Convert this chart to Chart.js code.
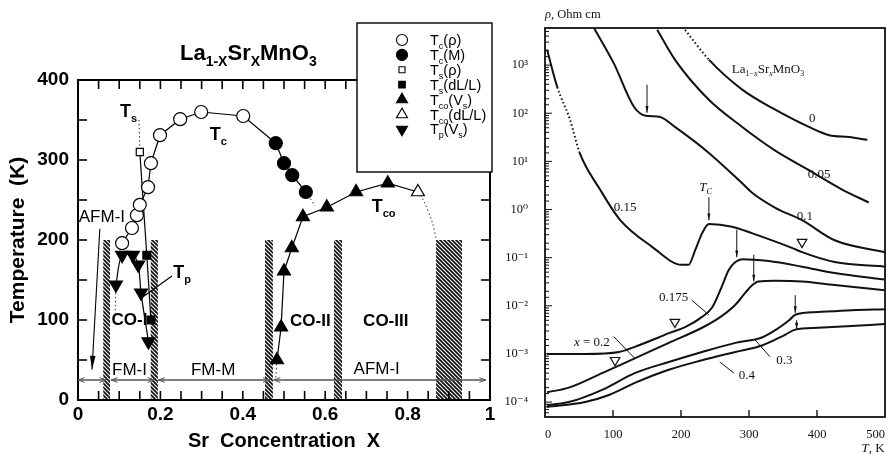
<!DOCTYPE html>
<html>
<head>
<meta charset="utf-8">
<script src="https://cdn.jsdelivr.net/npm/chart.js@4.4.0/dist/chart.umd.min.js"></script>
<style>
html, body { margin: 0; padding: 0; background: #fff; }
#wrap { position: relative; width: 893px; height: 459px; overflow: hidden; }
#left { position: absolute; left: 0; top: 0; }
#right { position: absolute; left: 505px; top: 0; }
</style>
</head>
<body>
<div id="wrap">
  <canvas id="left" width="505" height="459"></canvas>
  <canvas id="right" width="388" height="459"></canvas>
</div>
<script>
// ---------- left panel data: La(1-x)Sr(x)MnO3 phase diagram ----------
const tcRhoX = [0.107, 0.131, 0.143, 0.150, 0.170, 0.177, 0.199, 0.248, 0.299, 0.401];
const tcRhoT = [196, 215, 231, 244, 266, 296, 331, 351, 360, 355];
const tcMX = [0.480, 0.500, 0.520, 0.553];
const tcMT = [321, 296, 281, 260];
const tsRhoX = [0.150];
const tsRhoT = [310];
const tsDLX = [0.167, 0.177];
const tsDLT = [181, 100];
const tcoVsX = [0.483, 0.493, 0.500, 0.519, 0.546, 0.604, 0.675, 0.752];
const tcoVsT = [50, 91, 161, 190, 229, 241, 260, 271];
const tcoDLX = [0.825];
const tcoDLT = [260];
const tpX = [0.092, 0.107, 0.133, 0.146, 0.153, 0.171];
const tpT = [144, 181, 181, 169, 134, 73];

// dotted continuations
const tsGuideX = [0.148, 0.150], tsGuideT = [350, 316];
const tcTailX = [0.553, 0.575], tcTailT = [260, 243];
const tcoTailX = [0.825, 0.840, 0.860, 0.870], tcoTailT = [260, 248, 222, 200];
const tpTailX = [0.092, 0.090], tpTailT = [144, 106];
const tcoHeadX = [0.483, 0.480], tcoHeadT = [50, 28];

// hatched phase boundaries
const bandStart = [0.061, 0.176, 0.454, 0.621, 0.869];
const bandEnd = [0.078, 0.194, 0.473, 0.641, 0.932];
const bandTop = 200;

// ground-state ranges (double arrows near the bottom)
const phaseFrom = [0.000, 0.080, 0.195, 0.475];
const phaseTo = [0.068, 0.185, 0.465, 0.990];
const phaseArrowT = 25;

// ---------- right panel data: resistivity vs T ----------
const rhoT_0 = [206, 241, 290, 338, 388, 418, 447, 474];
const rho_0 = [5.4e3, 1.3e3, 3.1e2, 1.2e2, 5.2e1, 3.5e1, 3.2e1, 2.8e1];
const rhoT_005 = [165, 191, 241, 290, 338, 388, 437, 476];
const rho_005 = [5.4e3, 1.3e3, 1.9e2, 5.2e1, 1.7e1, 6.6, 2.6, 1.4];
const rhoT_01 = [72, 101, 131, 148, 168, 191, 241, 290, 305, 338, 378, 426, 500];
const rho_01 = [5.9e3, 1.1e3, 1.35e2, 8.9e1, 8.5e1, 5.2e1, 1.5e1, 3.5, 2.2, 1.1, 6.0e-1, 2.3e-1, 1.3e-1];
const rhoT_015 = [3, 18, 37, 51, 81, 110, 157, 201, 211, 221, 231, 241, 275, 305, 363, 378, 426, 500];
const rho_015 = [2.1e3, 3.5e2, 7.2e1, 1.5e1, 2.6, 6.2e-1, 1.7e-1, 7.1e-2, 7.1e-2, 1.45e-1, 3.2e-1, 5.0e-1, 4.4e-1, 3.2e-1, 1.6e-1, 1.3e-1, 8.1e-2, 6.5e-2];
const rhoT_0175 = [3, 59, 109, 132, 167, 182, 206, 231, 246, 260, 270, 280, 290, 329, 378, 426, 500];
const rho_0175 = [1.0e-3, 1.0e-3, 1.1e-3, 1.4e-3, 2.2e-3, 2.7e-3, 3.6e-3, 5.9e-3, 9.3e-3, 2.5e-2, 5.5e-2, 8.1e-2, 9.3e-2, 8.5e-2, 6.5e-2, 4.8e-2, 3.5e-2];
const rhoT_02 = [3, 35, 84, 132, 182, 231, 256, 280, 295, 305, 314, 338, 378, 426, 500];
const rho_02 = [1.6e-4, 2.0e-4, 4.0e-4, 8.1e-4, 1.7e-3, 3.5e-3, 5.6e-3, 1.05e-2, 1.9e-2, 2.7e-2, 3.2e-2, 3.3e-2, 3.2e-2, 2.7e-2, 2.1e-2];
const rhoT_03 = [3, 35, 84, 132, 182, 231, 280, 319, 344, 359, 368, 402, 451, 500];
const rho_03 = [8.7e-5, 1.0e-4, 1.8e-4, 4.0e-4, 6.8e-4, 1.1e-3, 1.7e-3, 2.2e-3, 3.5e-3, 5.0e-3, 6.5e-3, 7.4e-3, 8.1e-3, 8.5e-3];
const rhoT_04 = [3, 59, 94, 132, 182, 231, 280, 319, 353, 368, 402, 451, 500];
const rho_04 = [7.9e-5, 1.0e-4, 1.4e-4, 2.5e-4, 4.7e-4, 7.4e-4, 1.1e-3, 1.5e-3, 2.5e-3, 3.2e-3, 3.5e-3, 3.8e-3, 4.2e-3];
const openMarkT = [103, 191, 378];
const openMarkRho = [7.4e-4, 4.6e-3, 2.1e-1];

const SANS = '"Liberation Sans", Arial, Helvetica, sans-serif';
const SERIF = '"Liberation Serif", "Times New Roman", "DejaVu Serif", serif';

function pts(xs, ys) {
    return xs.map((x, i) => ({ x: x, y: ys[i] }));
}

function hatchPattern() {
    const c = document.createElement('canvas');
    c.width = 4; c.height = 4;
    const g = c.getContext('2d');
    g.strokeStyle = '#111';
    g.lineWidth = 1.8;
    g.beginPath();
    g.moveTo(-1, -1); g.lineTo(5, 5);
    g.moveTo(-1, 3); g.lineTo(1, 5);
    g.moveTo(3, -1); g.lineTo(5, 1);
    g.stroke();
    return g.createPattern(c, 'repeat');
}

function seg(ctx, x1, y1, x2, y2) {
    ctx.beginPath();
    ctx.moveTo(x1, y1);
    ctx.lineTo(x2, y2);
    ctx.stroke();
}

// arrow head at (x2,y2); filled = solid narrow head, else open "V"
function arrow(ctx, x1, y1, x2, y2, head, spread, filled) {
    seg(ctx, x1, y1, x2, y2);
    const ang = Math.atan2(y2 - y1, x2 - x1);
    const ax = x2 - head * Math.cos(ang - spread), ay = y2 - head * Math.sin(ang - spread);
    const bx = x2 - head * Math.cos(ang + spread), by = y2 - head * Math.sin(ang + spread);
    ctx.beginPath();
    if (filled) {
        ctx.moveTo(x2, y2); ctx.lineTo(ax, ay); ctx.lineTo(bx, by); ctx.closePath(); ctx.fill();
    } else {
        ctx.moveTo(ax, ay); ctx.lineTo(x2, y2); ctx.lineTo(bx, by); ctx.stroke();
    }
}

// rich text: parts are [text, kind]; kind may contain 's' (subscript), 'u' (superscript), 'i' (italic)
function drawRich(ctx, parts, x, y, size, family, weight, align) {
    const pieces = parts.map(p => {
        const k = p[1] || '';
        const small = k.includes('s') || k.includes('u');
        const s = small ? Math.round(size * 0.62) : size;
        const font = (k.includes('i') ? 'italic ' : '') + weight + ' ' + s + 'px ' + family;
        ctx.font = font;
        const dy = k.includes('s') ? size * 0.28 : (k.includes('u') ? -size * 0.42 : 0);
        return { t: p[0], font: font, w: ctx.measureText(p[0]).width, dy: dy };
    });
    const total = pieces.reduce((s, p) => s + p.w, 0);
    let cx = align === 'center' ? x - total / 2 : (align === 'right' ? x - total : x);
    ctx.textAlign = 'left';
    pieces.forEach(p => {
        ctx.font = p.font;
        ctx.fillText(p.t, cx, y + p.dy);
        cx += p.w;
    });
}

function drawMarker(ctx, style, x, y, r, filled, rot) {
    ctx.beginPath();
    if (style === 'circle') {
        ctx.arc(x, y, r, 0, Math.PI * 2);
    } else if (style === 'rect') {
        const h = r / Math.SQRT2;
        ctx.rect(x - h, y - h, 2 * h, 2 * h);
    } else {
        const dir = rot ? -1 : 1;
        ctx.moveTo(x, y - dir * r);
        ctx.lineTo(x + r * 0.866, y + dir * r * 0.5);
        ctx.lineTo(x - r * 0.866, y + dir * r * 0.5);
        ctx.closePath();
    }
    ctx.fillStyle = filled ? '#000' : '#fff';
    ctx.fill();
    ctx.stroke();
}

// ---------- left chart ----------
const hatch = hatchPattern();

const markerSets = [
    { label: [['T'], ['c', 's'], ['(ρ)']], x: tcRhoX, y: tcRhoT, style: 'circle', r: 6.5, filled: false, rot: 0 },
    { label: [['T'], ['c', 's'], ['(M)']], x: tcMX, y: tcMT, style: 'circle', r: 6.5, filled: true, rot: 0 },
    { label: [['T'], ['s', 's'], ['(ρ)']], x: tsRhoX, y: tsRhoT, style: 'rect', r: 5, filled: false, rot: 0 },
    { label: [['T'], ['s', 's'], ['(dL/L)']], x: tsDLX, y: tsDLT, style: 'rect', r: 5.5, filled: true, rot: 0 },
    { label: [['T'], ['co', 's'], ['(V'], ['s', 's'], [')']], x: tcoVsX, y: tcoVsT, style: 'triangle', r: 7.5, filled: true, rot: 0 },
    { label: [['T'], ['co', 's'], ['(dL/L)']], x: tcoDLX, y: tcoDLT, style: 'triangle', r: 7.5, filled: false, rot: 0 },
    { label: [['T'], ['p', 's'], ['(V'], ['s', 's'], [')']], x: tpX, y: tpT, style: 'triangle', r: 7.5, filled: true, rot: 180 }
];

const leftDatasets = [];
markerSets.forEach(m => {
    leftDatasets.push({
        data: pts(m.x, m.y), showLine: false, order: 0,
        pointStyle: m.style, pointRadius: m.r, pointRotation: m.rot,
        pointBorderColor: '#000', pointBorderWidth: 1.2,
        pointBackgroundColor: m.filled ? '#000' : '#fff'
    });
});
[[tcRhoX.concat(tcMX), tcRhoT.concat(tcMT), 0],
 [tsRhoX.concat(tsDLX), tsRhoT.concat(tsDLT), 0],
 [tcoVsX.concat(tcoDLX), tcoVsT.concat(tcoDLT), 0],
 [tpX, tpT, 0.35]].forEach(l => {
    leftDatasets.push({ data: pts(l[0], l[1]), borderColor: '#000', borderWidth: 1.2, pointRadius: 0, tension: l[2], order: 5 });
});
[[tsGuideX, tsGuideT], [tcTailX, tcTailT], [tcoTailX, tcoTailT], [tpTailX, tpTailT], [tcoHeadX, tcoHeadT]].forEach(l => {
    leftDatasets.push({ data: pts(l[0], l[1]), borderColor: '#333', borderWidth: 1, borderDash: [1.5, 2.5], pointRadius: 0, tension: 0.3, order: 5 });
});
bandStart.forEach((b, i) => {
    leftDatasets.push({
        data: [{ x: b, y: bandTop }, { x: bandEnd[i], y: bandTop }],
        borderWidth: 0, pointRadius: 0, fill: 'origin', backgroundColor: hatch, order: 10
    });
});

const leftTexts = [
    { parts: [['T'], ['s', 's']], x: 0.102, y: 354, size: 18, weight: 'bold', align: 'left' },
    { parts: [['T'], ['c', 's']], x: 0.320, y: 325, size: 18, weight: 'bold', align: 'left' },
    { parts: [['T'], ['p', 's']], x: 0.231, y: 152, size: 18, weight: 'bold', align: 'left' },
    { parts: [['T'], ['co', 's']], x: 0.713, y: 235, size: 18, weight: 'bold', align: 'left' },
    { parts: [['AFM-I']], x: 0.058, y: 223, size: 17, weight: 'normal', align: 'center' },
    { parts: [['CO-I']], x: 0.125, y: 94, size: 17, weight: 'bold', align: 'center' },
    { parts: [['CO-II']], x: 0.564, y: 92, size: 17, weight: 'bold', align: 'center' },
    { parts: [['CO-III']], x: 0.747, y: 92, size: 17, weight: 'bold', align: 'center' },
    { parts: [['FM-I']], x: 0.125, y: 31, size: 17, weight: 'normal', align: 'center' },
    { parts: [['FM-M']], x: 0.328, y: 31, size: 17, weight: 'normal', align: 'center' },
    { parts: [['AFM-I']], x: 0.725, y: 33, size: 17, weight: 'normal', align: 'center' }
];

const leftDecor = {
    id: 'leftDecor',
    afterDraw(chart) {
        const { ctx, chartArea: a, scales: { x, y } } = chart;
        ctx.save();
        ctx.strokeStyle = '#000';
        ctx.fillStyle = '#000';
        ctx.lineWidth = 2;
        ctx.strokeRect(a.left, a.top, a.right - a.left, a.bottom - a.top);

        // inward ticks
        ctx.lineWidth = 1.6;
        x.ticks.forEach(t => {
            const px = x.getPixelForValue(t.value);
            seg(ctx, px, a.bottom, px, a.bottom - 9);
            seg(ctx, px, a.top, px, a.top + 9);
        });
        y.ticks.forEach(t => {
            const py = y.getPixelForValue(t.value);
            seg(ctx, a.left, py, a.left + 9, py);
            seg(ctx, a.right, py, a.right - 9, py);
        });

        // ground-state double arrows
        ctx.strokeStyle = '#555';
        ctx.lineWidth = 1;
        const py = y.getPixelForValue(phaseArrowT);
        phaseFrom.forEach((f, i) => {
            const x1 = x.getPixelForValue(f), x2 = x.getPixelForValue(phaseTo[i]);
            arrow(ctx, x1, py, x2, py, 7, 0.35, false);
            arrow(ctx, x2, py, x1, py, 7, 0.35, false);
        });

        // AFM-I pointer and Tp leader
        ctx.strokeStyle = '#000';
        ctx.lineWidth = 1.1;
        arrow(ctx, x.getPixelForValue(0.053), y.getPixelForValue(214), x.getPixelForValue(0.034), y.getPixelForValue(38), 14, 0.2, true);
        seg(ctx, x.getPixelForValue(0.228), y.getPixelForValue(155), x.getPixelForValue(0.158), y.getPixelForValue(129));

        // labels
        ctx.textBaseline = 'alphabetic';
        leftTexts.forEach(t => {
            drawRich(ctx, t.parts, x.getPixelForValue(t.x), y.getPixelForValue(t.y), t.size, SANS, t.weight, t.align);
        });

        // title
        drawRich(ctx, [['La'], ['1-X', 's'], ['Sr'], ['X', 's'], ['MnO'], ['3', 's']],
            a.left + 102, a.top - 20, 22, SANS, 'bold', 'left');

        // legend box
        const lx = a.right - 133, ly = 23, lw = 135, lh = 149;
        ctx.fillStyle = '#fff';
        ctx.fillRect(lx, ly, lw, lh);
        ctx.lineWidth = 1.4;
        ctx.strokeRect(lx, ly, lw, lh);
        markerSets.forEach((m, i) => {
            const ry = ly + 17 + i * 14.9;
            ctx.lineWidth = 1.1;
            ctx.strokeStyle = '#000';
            drawMarker(ctx, m.style, lx + 45, ry, m.r * 0.85, m.filled, m.rot);
            ctx.fillStyle = '#000';
            drawRich(ctx, m.label, lx + 73, ry + 5, 14.5, SANS, 'normal', 'left');
        });
        ctx.restore();
    }
};

new Chart(document.getElementById('left'), {
    type: 'line',
    data: { datasets: leftDatasets },
    options: {
        responsive: false,
        animation: false,
        events: [],
        layout: { padding: { top: 80, right: 15, left: 0, bottom: 0 } },
        plugins: { legend: { display: false }, tooltip: { enabled: false } },
        scales: {
            x: {
                type: 'linear', min: 0, max: 1,
                afterFit: s => { s.height = 59; s.paddingLeft = 0; s.paddingRight = 0; },
                grid: { display: false, drawTicks: false },
                border: { display: false },
                ticks: {
                    stepSize: 0.05, autoSkip: false, maxRotation: 0, padding: 3,
                    color: '#000', font: { family: SANS, size: 19, weight: 'bold' },
                    callback: v => {
                        if (Math.abs(v * 5 - Math.round(v * 5)) > 1e-6) return '';
                        const r = Math.round(v * 5) / 5;
                        return r === 0 ? '0' : (r === 1 ? '1' : r.toFixed(1));
                    }
                },
                title: {
                    display: true, text: 'Sr  Concentration  X', color: '#000',
                    font: { family: SANS, size: 20, weight: 'bold' }, padding: { top: 0, bottom: 6 }
                }
            },
            y: {
                type: 'linear', min: 0, max: 400,
                afterFit: s => { s.width = 78; },
                grid: { display: false, drawTicks: false },
                border: { display: false },
                ticks: {
                    stepSize: 50, autoSkip: false, padding: 9,
                    color: '#000', font: { family: SANS, size: 19, weight: 'bold' },
                    callback: v => (v % 100 === 0 ? String(v) : '')
                },
                title: {
                    display: true, text: 'Temperature  (K)', color: '#000',
                    font: { family: SANS, size: 21, weight: 'bold' }, padding: { top: 6, bottom: 0 }
                }
            }
        }
    },
    plugins: [leftDecor]
});

// ---------- right chart ----------
const SUP = { '0': '⁰', '1': '¹', '2': '²', '3': '³', '4': '⁴', '5': '⁵', '6': '⁶', '7': '⁷', '8': '⁸', '9': '⁹', '-': '⁻' };
function powLabel(v) {
    const e = Math.log10(v);
    if (Math.abs(e - Math.round(e)) > 1e-6) return '';
    return '10' + String(Math.round(e)).split('').map(c => SUP[c]).join('');
}

const curveSets = [
    { t: rhoT_0, r: rho_0, dotted: [0] },
    { t: rhoT_005, r: rho_005, dotted: [] },
    { t: rhoT_01, r: rho_01, dotted: [] },
    { t: rhoT_015, r: rho_015, dotted: [1, 2] },
    { t: rhoT_0175, r: rho_0175, dotted: [] },
    { t: rhoT_02, r: rho_02, dotted: [] },
    { t: rhoT_03, r: rho_03, dotted: [] },
    { t: rhoT_04, r: rho_04, dotted: [] }
];

const rightDatasets = curveSets.map(c => ({
    data: pts(c.t, c.r),
    borderColor: '#111', borderWidth: 2, pointRadius: 0,
    cubicInterpolationMode: 'monotone',
    segment: { borderDash: s => (c.dotted.includes(s.p0DataIndex) ? [1.5, 2.5] : undefined) }
}));
rightDatasets.push({
    data: pts(openMarkT, openMarkRho), showLine: false,
    pointStyle: 'triangle', pointRotation: 180, pointRadius: 5.5,
    pointBorderColor: '#111', pointBorderWidth: 1.2, pointBackgroundColor: '#fff'
});

// vertical arrows: [T, rho from, rho to]
const rightArrows = [[150, 390, 102], [241, 1.8, 0.6], [282, 0.38, 0.102], [307, 0.115, 0.032], [368, 0.0166, 0.0071], [370, 0.005, 0.0032]];
// leader lines: [T1, rho1, T2, rho2]
const rightLeaders = [[216, 1.3e-2, 241, 6.5e-3], [101, 2.3e-3, 132, 8.1e-4], [309, 1.95e-3, 331, 8.7e-4], [257, 6.8e-4, 278, 4.0e-4]];
const rightTexts = [
    { parts: [['0']], t: 393, r: 79 },
    { parts: [['0.05']], t: 403, r: 5.2 },
    { parts: [['0.1']], t: 382, r: 0.71 },
    { parts: [['0.15']], t: 118, r: 1.1 },
    { parts: [['0.175']], t: 189, r: 0.0145 },
    { parts: [['x', 'i'], [' = 0.2']], t: 69, r: 1.7e-3 },
    { parts: [['0.3']], t: 352, r: 7.4e-4 },
    { parts: [['0.4']], t: 297, r: 3.6e-4 },
    { parts: [['T', 'i'], ['C', 'si']], t: 236, r: 2.8 },
    { parts: [['La'], ['1−', 's'], ['x', 'si'], ['Sr'], ['x', 'si'], ['MnO'], ['3', 's']], t: 328, r: 790 }
];

const rightDecor = {
    id: 'rightDecor',
    afterDraw(chart) {
        const { ctx, chartArea: a, scales: { x, y } } = chart;
        ctx.save();
        ctx.strokeStyle = '#111';
        ctx.fillStyle = '#111';
        ctx.lineWidth = 1.8;
        ctx.strokeRect(a.left, a.top, a.right - a.left, a.bottom - a.top);

        ctx.lineWidth = 1;
        y.ticks.forEach(t => {
            const py = y.getPixelForValue(t.value);
            if (py < a.top + 1 || py > a.bottom - 1) return;
            const major = powLabel(t.value) !== '';
            seg(ctx, a.left, py, a.left + (major ? 7 : 4), py);
        });
        ctx.lineWidth = 1.4;
        x.ticks.forEach(t => {
            if (t.value <= 0 || t.value >= 500) return;
            const px = x.getPixelForValue(t.value);
            seg(ctx, px, a.bottom, px, a.bottom - 7);
        });

        ctx.lineWidth = 1;
        rightArrows.forEach(r => {
            const px = x.getPixelForValue(r[0]);
            arrow(ctx, px, y.getPixelForValue(r[1]), px, y.getPixelForValue(r[2]), 7, 0.22, true);
        });
        rightLeaders.forEach(l => {
            seg(ctx, x.getPixelForValue(l[0]), y.getPixelForValue(l[1]), x.getPixelForValue(l[2]), y.getPixelForValue(l[3]));
        });

        ctx.textBaseline = 'middle';
        rightTexts.forEach(t => {
            drawRich(ctx, t.parts, x.getPixelForValue(t.t), y.getPixelForValue(t.r), 13, SERIF, 'normal', 'center');
        });
        ctx.textBaseline = 'alphabetic';
        drawRich(ctx, [['ρ', 'i'], [', Ohm cm']], a.left, 18, 12.5, SERIF, 'normal', 'left');
        drawRich(ctx, [['T', 'i'], [', K']], a.right - 12, 452, 13, SERIF, 'normal', 'center');
        ctx.restore();
    }
};

new Chart(document.getElementById('right'), {
    type: 'line',
    data: { datasets: rightDatasets },
    options: {
        responsive: false,
        animation: false,
        events: [],
        layout: { padding: { top: 28, right: 8, left: 0, bottom: 0 } },
        plugins: { legend: { display: false }, tooltip: { enabled: false } },
        scales: {
            x: {
                type: 'linear', min: 0, max: 500,
                afterFit: s => { s.height = 42; s.paddingLeft = 0; s.paddingRight = 0; },
                grid: { display: false, drawTicks: false },
                border: { display: false },
                ticks: {
                    stepSize: 100, maxRotation: 0, padding: 10, align: 'inner',
                    color: '#111', font: { family: SERIF, size: 12.5 }
                }
            },
            y: {
                type: 'logarithmic', min: 4.9e-5, max: 5.9e3, bounds: 'data',
                afterFit: s => { s.width = 40; s.paddingTop = 0; s.paddingBottom = 0; },
                grid: { display: false, drawTicks: false },
                border: { display: false },
                ticks: {
                    autoSkip: false, padding: 17,
                    color: '#111', font: { family: SERIF, size: 12.5 },
                    callback: v => powLabel(v)
                }
            }
        }
    },
    plugins: [rightDecor]
});
</script>
</body>
</html>
